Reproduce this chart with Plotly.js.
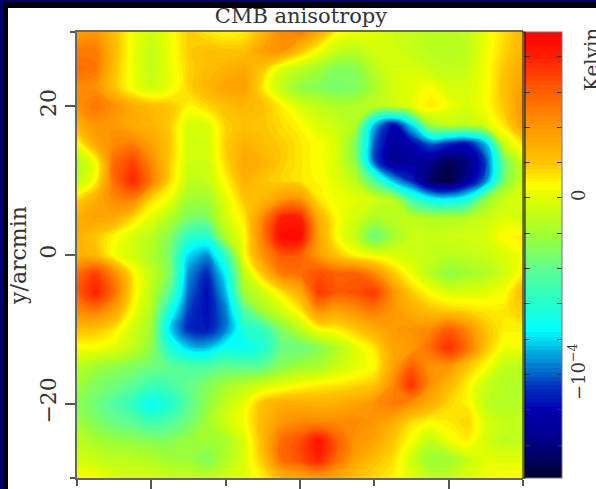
<!DOCTYPE html>
<html>
<head>
<meta charset="utf-8">
<script src="https://cdn.plot.ly/plotly-3.0.1.min.js"></script>
<style>
html,body{margin:0;padding:0;width:596px;height:489px;overflow:hidden;background:#00006e}
#inner{position:absolute;left:3px;top:2px;width:593px;height:487px;background:#000}
#sheet{position:absolute;left:8px;top:8px;width:588px;height:481px;background:#fff}
#plot{position:absolute;left:0;top:0;width:596px;height:489px}
</style>
</head>
<body>
<div id="inner"></div>
<div id="sheet"></div>
<div id="plot"></div>
<script>
// Sky positions in arcmin
const xArcmin = [-30,-27.5,-25,-22.5,-20,-17.5,-15,-12.5,-10,-7.5,-5,-2.5,0,2.5,5,7.5,10,12.5,15,17.5,20,22.5,25,27.5,30];
const yArcmin = [30,27.5,25,22.5,20,17.5,15,12.5,10,7.5,5,2.5,0,-2.5,-5,-7.5,-10,-12.5,-15,-17.5,-20,-22.5,-25,-27.5,-30];
// Temperature anisotropy in units of 1e-4 K, rows listed from top (y=+30) to bottom (y=-30)
const tempRows = [
[.35,.40,.22,.04,-.06,.04,.18,.12,.08,.10,.25,.45,.50,.32,.08,.04,.00,-.06,-.10,-.12,-.12,-.10,.02,.14,.25],
[.50,.50,.25,.03,-.10,.03,.18,.22,.20,.22,.36,.42,.22,.05,-.08,-.12,-.05,-.05,-.08,-.12,-.14,-.12,.04,.16,.28],
[.55,.52,.22,.03,-.10,.02,.16,.24,.28,.33,.20,-.03,-.12,-.20,-.30,-.28,-.12,-.04,-.03,-.08,-.10,-.08,.05,.20,.33],
[.45,.42,.22,.04,-.06,.02,.16,.26,.34,.36,.12,-.10,-.25,-.28,-.33,-.30,-.18,-.05,.00,.06,-.03,-.03,.05,.22,.38],
[.42,.52,.42,.30,.24,.20,.09,.15,.22,.26,.22,.10,-.03,-.10,-.15,-.15,-.10,-.08,.00,.12,.03,-.03,.05,.20,.42],
[.28,.40,.40,.30,.28,.18,-.03,-.02,.17,.22,.20,.14,.08,-.03,-.08,-.15,-.85,-1.20,-.80,-.20,-.10,-.10,-.02,.12,.38],
[.05,.33,.45,.48,.35,.20,-.05,-.05,.18,.28,.22,.18,.12,.06,-.02,-.30,-1.00,-1.30,-1.20,-1.00,-1.10,-1.15,-.85,-.05,.12],
[-.15,.05,.55,.70,.45,.18,-.06,-.06,.15,.33,.28,.18,.12,.06,-.03,-.25,-1.00,-1.35,-1.30,-1.35,-1.50,-1.40,-1.05,-.35,-.02],
[-.12,.08,.55,.78,.50,.15,-.10,-.09,.08,.28,.20,.16,.12,.08,.00,-.12,-.45,-.85,-1.10,-1.45,-1.55,-1.30,-.95,-.30,-.05],
[.15,.30,.45,.48,.15,.03,-.20,-.20,.00,.20,.25,.38,.40,.12,.03,.00,-.05,-.12,-.50,-.70,-.75,-.65,-.25,-.08,.00],
[.30,.35,.32,.15,.00,-.15,-.30,-.30,-.05,.12,.45,.80,.80,.30,.06,-.05,-.15,-.12,-.10,-.15,-.15,-.12,-.08,-.02,-.05],
[.30,.20,.08,-.03,-.12,-.28,-.55,-.60,-.15,.05,.50,.90,.90,.35,.06,-.10,-.38,-.20,-.08,-.07,-.07,-.05,-.03,.08,.10],
[.28,.25,.05,-.05,-.15,-.32,-.80,-.92,-.55,.05,.42,.62,.60,.38,.20,.07,.02,-.02,-.06,-.10,-.12,-.10,-.08,-.03,.05],
[.55,.70,.45,.10,-.10,-.30,-.92,-1.10,-.75,-.10,.20,.50,.55,.65,.60,.60,.45,.20,.03,-.12,-.25,-.20,-.15,-.05,.10],
[.60,.80,.55,.12,-.12,-.42,-.98,-1.17,-.85,-.20,-.05,.12,.30,.72,.62,.65,.72,.42,.18,.06,-.02,-.02,.00,.05,.25],
[.45,.50,.35,.05,-.15,-.65,-1.05,-1.17,-.95,-.45,-.20,-.05,.10,.42,.35,.42,.50,.40,.30,.22,.18,.15,.12,.12,.18],
[.22,.20,.12,-.05,-.20,-.80,-1.10,-1.14,-.95,-.62,-.55,-.30,-.12,.06,.10,.20,.30,.38,.42,.45,.60,.45,.20,.10,.10],
[.05,.05,.00,-.10,-.25,-.62,-.82,-.85,-.70,-.72,-.62,-.38,-.38,-.28,-.15,.00,.12,.35,.38,.55,.75,.55,.20,.03,.05],
[-.12,-.20,-.25,-.30,-.35,-.40,-.45,-.45,-.40,-.42,-.40,-.28,-.20,-.18,-.08,.00,.07,.35,.60,.42,.40,.20,.07,-.10,-.12],
[-.20,-.30,-.35,-.42,-.50,-.48,-.40,-.30,-.20,-.12,-.05,.00,.06,.10,.12,.15,.20,.45,.75,.42,.25,.10,-.08,-.15,-.14],
[-.25,-.35,-.45,-.55,-.72,-.62,-.42,-.25,-.10,.02,.22,.30,.30,.28,.30,.35,.42,.50,.42,.30,.15,.10,-.10,-.15,-.12],
[-.20,-.30,-.38,-.42,-.50,-.45,-.35,-.20,-.06,.05,.25,.40,.45,.45,.45,.45,.40,.30,.14,.07,.11,.16,-.02,-.10,-.10],
[-.12,-.18,-.22,-.25,-.28,-.28,-.22,-.20,-.18,-.02,.25,.55,.65,.85,.60,.40,.35,.20,.05,-.10,.03,.10,-.04,-.12,-.10],
[-.06,-.08,-.12,-.12,-.15,-.20,-.22,-.30,-.15,-.02,.20,.55,.65,.80,.55,.35,.22,.14,-.05,-.22,-.22,-.08,.00,.00,.00],
[.06,.05,-.02,-.05,-.05,-.08,-.08,-.10,-.05,.00,.10,.25,.30,.35,.30,.20,.15,.10,.00,-.10,-.10,-.02,.04,.06,.06]
];
const tempMin = -1.587;
const tempMax = 0.94;
const levelStep = 0.025;
// Colour key
const keyLevels = [-1.587,-1.35,-1.2,-1.07,-1.0,-.88,-.75,-.55,-.4,-.2,0,.07,.2,.4,.6,.8,.94];
const keyColors = ['#000030','#000090','#0000b0','#0030c0','#0060c8','#00a8e0','#00ffff','#30ffc0','#60ff90','#a0ff30','#e0ff00','#ffff00','#ffc400','#ff9800','#ff6000','#ff2000','#ff0000'];
const keyTicks = [-1.4,-1.2,-1.0,-.8,-.6,-.4,-.2,0,.2,.4,.6,.8];
const keyTickText = ['','','\u221210<sup>\u22124</sup>','','','','','0','','','',''];
const yMajorTicks = [-20,0,20];
const yMajorLabels = ['\u221220','0','20'];
const yMinorTicks = [-30,30];
const xMinorTicks = [-30,-10,10,30];
const titleText = 'CMB anisotropy';
const yTitleText = 'y/arcmin';
const keyTitleText = 'Kelvin';

const W = 596, H = 489;
const ml = 77, mt = 32, pw = 446, ph = 446;
const serif = '"DejaVu Serif", serif';
const ink = '#333';
const colorscale = keyLevels.map((v,i)=>[(v-tempMin)/(tempMax-tempMin), keyColors[i]]);
const zAscending = tempRows.slice().reverse();
const yAscending = yArcmin.slice().reverse();

const traces = [{
  type:'contour', x:xArcmin, y:yAscending, z:zAscending,
  zmin:tempMin, zmax:tempMax, colorscale:colorscale, hoverinfo:'skip',
  autocontour:false, contours:{start:tempMin, end:tempMax, size:levelStep, coloring:'fill', showlines:false},
  line:{width:0, smoothing:1.3},
  colorbar:{
    x:1.002, xanchor:'left', xref:'paper', xpad:0, ypad:0, y:0.5, yanchor:'middle', yref:'paper',
    thickness:38, thicknessmode:'pixels', len:1, lenmode:'fraction',
    tickmode:'array', tickvals:keyTicks, ticktext:keyTickText, ticks:'inside', ticklen:5, tickwidth:1, tickcolor:ink,
    tickangle:-90, tickfont:{family:serif,size:18,color:ink},
    outlinecolor:'#777', outlinewidth:1
  }
},{
  // Invisible copy of the map whose thin colour bar supplies the black rule and left-hand ticks of the key
  type:'heatmap', x:xArcmin, y:yAscending, z:zAscending, zmin:tempMin, zmax:tempMax, hoverinfo:'skip',
  colorscale:[[0,'rgba(0,0,0,0)'],[1,'rgba(0,0,0,0)']],
  colorbar:{
    x:1, xanchor:'left', xref:'paper', xpad:0, ypad:0, y:0.5, yanchor:'middle', yref:'paper',
    thickness:1, thicknessmode:'pixels', len:1, lenmode:'fraction',
    tickmode:'array', tickvals:keyTicks, ticks:'outside', ticklen:6, tickwidth:1, tickcolor:ink,
    showticklabels:false, outlinecolor:'#111', outlinewidth:1
  }
}];

const layout = {
  width:W, height:H, autosize:false,
  margin:{l:ml,t:mt,r:W-ml-pw,b:H-mt-ph,pad:0,autoexpand:false},
  paper_bgcolor:'rgba(0,0,0,0)', plot_bgcolor:'rgba(0,0,0,0)',
  showlegend:false,
  title:{text:titleText, x:301/W, xanchor:'center', xref:'container', y:1-16/H, yanchor:'middle', yref:'container',
         font:{family:serif,size:21,color:ink}},
  xaxis:{range:[-30,30], showgrid:false, zeroline:false, showticklabels:false, ticks:'outside', ticklen:11, tickwidth:1.5, tickcolor:'#555',
         tickmode:'array', tickvals:yMajorTicks,
         minor:{tickmode:'array',tickvals:xMinorTicks,ticks:'outside',ticklen:6,tickwidth:1.5,tickcolor:'#555'},
         showline:true, linecolor:'#666', linewidth:1.5, mirror:true},
  yaxis:{range:[-30,30], showgrid:false, zeroline:false, ticks:'outside', ticklen:10, tickwidth:1.5, tickcolor:'#555',
         tickmode:'array', tickvals:yMajorTicks, ticktext:yMajorLabels, tickangle:-90,
         minor:{tickmode:'array',tickvals:yMinorTicks,ticks:'outside',ticklen:5,tickwidth:1.5,tickcolor:'#555'},
         tickfont:{family:serif,size:22,color:ink},
         showline:true, linecolor:'#666', linewidth:1.5,
         title:{text:yTitleText, font:{family:serif,size:22,color:ink}, standoff:4}},
  annotations:[{xref:'paper',yref:'paper',x:(592-77)/pw,y:1-(60-32)/ph,text:keyTitleText,textangle:-90,showarrow:false,
                font:{family:serif,size:20,color:ink},xanchor:'center',yanchor:'middle'}]
};
Plotly.newPlot('plot',traces,layout,{displayModeBar:false,responsive:false});
</script>
</body>
</html>
